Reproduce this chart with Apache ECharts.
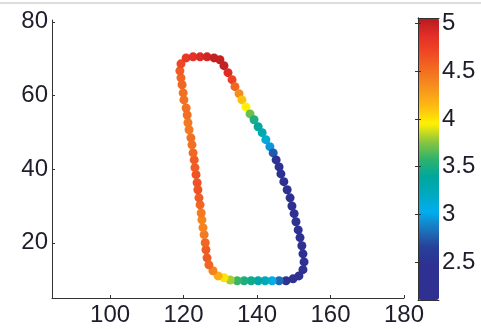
<!DOCTYPE html>
<html>
<head>
<meta charset="utf-8">
<script src="https://cdn.jsdelivr.net/npm/echarts@6/dist/echarts.min.js"></script>
<style>
  html, body { margin: 0; padding: 0; background: #fff; }
  #chart { width: 481px; height: 329px; }
</style>
</head>
<body>
<div id="chart"></div>
<script>
// points round the loop (left edge up, top, right side down, bottom back)
const xs = [126.4, 126.1, 125.9, 125.6, 125.3, 125.0, 124.8, 124.5, 124.2, 123.9,
  123.7, 123.4, 123.1, 122.9, 122.6, 122.3, 122.0, 121.5, 121.2, 121.0,
  120.7, 120.1, 119.9, 119.6, 119.3, 119.0, 119.3,
  120.7, 122.6, 124.5, 126.4, 128.3, 129.9,
  131.0, 132.1, 133.2,
  134.0, 135.1, 135.9, 137.0, 138.1, 139.2, 140.3, 141.4, 142.4, 143.5, 144.4, 145.2, 146.0,
  146.5, 147.3, 148.2, 149.0, 149.5, 150.1, 150.6, 151.2, 151.7, 152.2, 152.5, 152.8, 152.5, 151.4, 149.8,
  147.9, 146.0, 144.1, 142.2, 140.3, 138.4, 136.5, 134.6, 132.7, 131.0,
  129.4, 128.0, 126.9];
const ys = [15.9, 18.1, 20.0, 22.2, 24.1, 26.2, 28.1, 30.3, 32.2, 34.4,
  36.3, 38.5, 40.4, 42.5, 44.4, 46.6, 48.5, 50.7, 52.6, 54.7,
  56.6, 58.8, 60.7, 62.9, 64.8, 66.7, 68.6,
  70.2, 70.5, 70.5, 70.5, 70.2, 69.7,
  68.1, 66.2, 64.3,
  62.4, 60.5, 58.8, 56.9, 55.0, 53.4, 51.5, 49.9, 48.0, 46.1, 44.4, 42.5, 40.6,
  38.7, 36.6, 34.4, 32.2, 30.0, 27.9, 25.7, 23.5, 21.4, 19.2, 17.0, 14.8, 12.7, 11.0, 10.2,
  9.7, 9.7, 9.7, 9.7, 9.7, 9.7, 9.7, 9.7, 9.9, 10.5,
  11.0, 12.4, 14.0];
const vals = [4.6, 4.6, 4.55, 4.45, 4.4, 4.4, 4.45, 4.55, 4.6, 4.65,
  4.65, 4.65, 4.6, 4.6, 4.55, 4.5, 4.5, 4.45, 4.45, 4.5,
  4.5, 4.5, 4.5, 4.55, 4.55, 4.6, 4.7,
  4.8, 4.85, 4.9, 4.95, 5.0, 5.0,
  5.0, 4.9, 4.75,
  4.55, 4.35, 4.1, 3.95, 3.7, 3.5, 3.4, 3.3, 3.15, 2.95, 2.75, 2.5, 2.3,
  2.25, 2.2, 2.2, 2.2, 2.2, 2.2, 2.2, 2.2, 2.2, 2.2, 2.2, 2.2, 2.2, 2.25, 2.3,
  2.5, 2.8, 3.05, 3.25, 3.35, 3.45, 3.5, 3.6, 3.8, 4.0,
  4.2, 4.4, 4.55];

const xTicks = [100, 120, 140, 160, 180];
const yTicks = [20, 40, 60, 80];
const cbarTicks = [2.5, 3, 3.5, 4, 4.5, 5];
const cbarMin = 2.1;
const cbarMax = 5.06;

// printed-looking jet
const jet = ['#2e3192', '#2e3192', '#2e3192', '#27409a', '#1b75bc', '#00aeef',
  '#00a9c0', '#00a79d', '#2fb36b', '#8dc63f', '#fff200', '#fdb913',
  '#f7941d', '#f26f21', '#ef4a24', '#e52d27', '#b31b1f'];

const points = xs.map((x, i) => [x, ys[i], vals[i]]);

const font = "'Liberation Sans', Arial, sans-serif";
const textColor = '#1d1d2b';
const lineColor = '#333';

const chart = echarts.init(document.getElementById('chart'));

const cbarX = {
  gridIndex: 1, type: 'value', min: 0, max: 1, z: 10,
  axisLine: { show: true, onZero: false, lineStyle: { color: lineColor, width: 1 } },
  axisTick: { show: false }, axisLabel: { show: false }, splitLine: { show: false }
};
const cbarY = {
  gridIndex: 1, type: 'value', min: cbarMin, max: cbarMax, z: 10,
  axisLine: { show: true, lineStyle: { color: lineColor, width: 1 } },
  axisTick: { show: true, inside: true, length: 3, customValues: cbarTicks, lineStyle: { color: lineColor } },
  splitLine: { show: false }
};

chart.setOption({
  animation: false,
  backgroundColor: '#fff',
  graphic: [{
    type: 'line', shape: { x1: 0, y1: 3, x2: 481, y2: 3 },
    style: { stroke: '#bbb', lineWidth: 1 }
  }],
  grid: [
    { left: 52, right: 77, top: 20, bottom: 31 },
    { left: 418, top: 18, width: 21, height: 282 }
  ],
  xAxis: [
    {
      type: 'value', min: 84.2, max: 180,
      axisLine: { show: true, onZero: false, lineStyle: { color: lineColor, width: 1 } },
      axisTick: { show: true, inside: true, length: 3, customValues: xTicks, lineStyle: { color: lineColor } },
      axisLabel: { customValues: xTicks, fontSize: 24, fontFamily: font, color: textColor, margin: 5 },
      splitLine: { show: false }
    },
    Object.assign({}, cbarX, { position: 'bottom' }),
    Object.assign({}, cbarX, { position: 'top' })
  ],
  yAxis: [
    {
      type: 'value', min: 5, max: 80.5,
      axisLine: { show: true, onZero: false, lineStyle: { color: lineColor, width: 1 } },
      axisTick: { show: true, inside: true, length: 3, customValues: yTicks, lineStyle: { color: lineColor } },
      axisLabel: { customValues: yTicks, fontSize: 24, fontFamily: font, color: textColor, margin: 4 },
      splitLine: { show: false }
    },
    Object.assign({}, cbarY, {
      position: 'right',
      axisLabel: { customValues: cbarTicks, fontSize: 24, fontFamily: font, color: textColor, margin: 3 }
    }),
    Object.assign({}, cbarY, { position: 'left', axisLabel: { show: false } })
  ],
  visualMap: {
    type: 'continuous',
    seriesIndex: 0,
    dimension: 2,
    min: cbarMin,
    max: cbarMax,
    left: 418,
    top: 18,
    padding: 0,
    itemWidth: 21,
    itemHeight: 282,
    calculable: false,
    hoverLink: false,
    inRange: { color: jet }
  },
  series: [{
    type: 'scatter',
    xAxisIndex: 0,
    yAxisIndex: 0,
    data: points,
    symbol: 'circle',
    symbolSize: 9,
    itemStyle: { opacity: 1 }
  }]
});
</script>
</body>
</html>
